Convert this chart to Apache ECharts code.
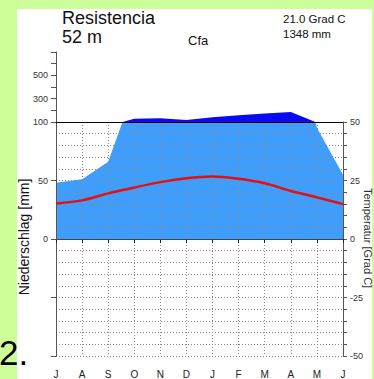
<!DOCTYPE html>
<html>
<head>
<meta charset="utf-8">
<script src="https://cdn.jsdelivr.net/npm/echarts@6/dist/echarts.min.js"></script>
<style>
  html, body { margin: 0; padding: 0; background: #ccff99; }
  #chart { width: 374px; height: 379px; }
</style>
</head>
<body>
<div id="chart"></div>
<script>
// Climate diagram, Resistencia (Walter-Lieth style), year starting in July
const monthNames = ['Jul', 'Aug', 'Sep', 'Oct', 'Nov', 'Dec', 'Jan', 'Feb', 'Mar', 'Apr', 'May', 'Jun'];
const monthLabels = ['J', 'A', 'S', 'O', 'N', 'D', 'J', 'F', 'M', 'A', 'M', 'J'];
const precipMm = [48, 51, 66, 128, 132, 118, 140, 158, 172, 185, 95, 55];
const tempC = [15.2, 16.5, 19.5, 22.0, 24.3, 26.0, 26.7, 25.7, 23.8, 20.5, 17.8, 14.9];
const precipLabels = [0, 50, 100];
const upperPrecipLabels = [300, 500];
const tempLabels = [-50, -25, 0, 25, 50];

const FONT = '"Liberation Sans", Arial, sans-serif';
const LIGHT_BLUE = '#3f9dfb';
const DARK_BLUE = '#0a0af0';
const GRID_DOT = { color: '#8a8a8a', width: 1, type: [1, 2] };

const chart = echarts.init(document.getElementById('chart'), null, { renderer: 'svg' });

chart.setOption({
  backgroundColor: '#ccff99',
  animation: false,
  graphic: [
    { type: 'rect', z: -10, shape: { x: 17, y: 9, width: 355, height: 370 }, style: { fill: '#ffffff' } },
    { type: 'text', x: 62, y: 17.8, style: { text: 'Resistencia', font: '18px ' + FONT, fill: '#111', verticalAlign: 'middle' } },
    { type: 'text', x: 62, y: 37.2, style: { text: '52 m', font: '18px ' + FONT, fill: '#111', verticalAlign: 'middle' } },
    { type: 'text', x: 188, y: 40, style: { text: 'Cfa', font: '13px ' + FONT, fill: '#111', verticalAlign: 'middle' } },
    { type: 'text', x: 283, y: 18.8, style: { text: '21.0 Grad C', font: '11.5px ' + FONT, fill: '#111', verticalAlign: 'middle' } },
    { type: 'text', x: 283, y: 34.3, style: { text: '1348 mm', font: '11.5px ' + FONT, fill: '#111', verticalAlign: 'middle' } },
    { type: 'text', x: 24, y: 237, rotation: Math.PI / 2,
      style: { text: 'Niederschlag [mm]', font: '14px ' + FONT, fill: '#111', align: 'center', verticalAlign: 'middle' } },
    { type: 'text', x: 368, y: 238, rotation: -Math.PI / 2,
      style: { text: 'Temperatur [Grad C]', font: '11px ' + FONT, fill: '#333', align: 'center', verticalAlign: 'middle' } },
    { type: 'text', x: -1, y: 352.5, z: 10, style: { text: '2.', font: '35px ' + FONT, fill: '#000', verticalAlign: 'middle' } }
  ],
  grid: [
    // main panel: -100 .. 100 mm
    { left: 56, right: 31, top: 122, bottom: 22 },
    // compressed panel above 100 mm
    { left: 56, right: 31, top: 52, bottom: 257 }
  ],
  xAxis: [
    {
      type: 'category', gridIndex: 0, data: monthNames, boundaryGap: false, z: 3,
      axisLine: { show: true, lineStyle: { color: '#222', width: 1 } },
      axisTick: { show: true, length: 4, lineStyle: { color: '#222' } },
      axisLabel: { formatter: (v, i) => monthLabels[i], fontSize: 10, fontFamily: FONT, color: '#222', margin: 13 },
      splitLine: { show: true, lineStyle: GRID_DOT }
    },
    {
      type: 'category', gridIndex: 1, data: monthNames, boundaryGap: false, position: 'bottom', z: 3,
      axisLine: { show: true, lineStyle: { color: '#000', width: 1 } },
      axisTick: { show: false }, axisLabel: { show: false }, splitLine: { show: false }
    }
  ],
  yAxis: [
    {
      type: 'value', gridIndex: 0, position: 'left', min: -100, max: 100, interval: 50, z: 3,
      axisLine: { show: true, lineStyle: { color: '#555', width: 1 } },
      axisTick: { show: true, length: 5, lineStyle: { color: '#555' } },
      axisLabel: { formatter: v => (precipLabels.indexOf(v) >= 0 ? String(v) : ''), fontSize: 9, fontFamily: FONT, color: '#333', margin: 8 },
      splitLine: { show: false }
    },
    {
      type: 'value', gridIndex: 0, position: 'right', min: -50, max: 50, interval: 5, z: 3,
      axisLine: { show: true, lineStyle: { color: '#555', width: 1 } },
      axisTick: { show: true, length: 4, lineStyle: { color: '#555' } },
      axisLabel: { formatter: v => (tempLabels.indexOf(v) >= 0 ? String(v) : ''), fontSize: 9, fontFamily: FONT, color: '#333', margin: 7 },
      splitLine: { show: true, lineStyle: GRID_DOT }
    },
    {
      type: 'value', gridIndex: 1, position: 'left', min: 100, max: 700, interval: 100, z: 3,
      axisLine: { show: true, lineStyle: { color: '#555', width: 1 } },
      axisTick: { show: true, length: 5, lineStyle: { color: '#555' } },
      axisLabel: { formatter: v => (upperPrecipLabels.indexOf(v) >= 0 ? String(v) : ''), fontSize: 9, fontFamily: FONT, color: '#333', margin: 8 },
      splitLine: { show: false }
    }
  ],
  series: [
    {
      name: 'Niederschlag', type: 'line', xAxisIndex: 0, yAxisIndex: 0, data: precipMm, z: 2,
      symbol: 'none', lineStyle: { width: 0 }, areaStyle: { color: LIGHT_BLUE, opacity: 1, origin: 'auto' },
      markLine: {
        silent: true, symbol: 'none', label: { show: false },
        lineStyle: { color: '#444', width: 1, type: 'solid' },
        data: [{ yAxis: 0 }]
      }
    },
    {
      name: 'Niederschlag > 100', type: 'line', xAxisIndex: 1, yAxisIndex: 2, data: precipMm, z: 2,
      symbol: 'none', lineStyle: { width: 0 }, areaStyle: { color: DARK_BLUE, opacity: 1, origin: 'start' }
    },
    {
      name: 'Temperatur', type: 'line', xAxisIndex: 0, yAxisIndex: 1, data: tempC, z: 5,
      symbol: 'none', smooth: 0.3, lineStyle: { color: '#e60f0f', width: 2.5 }
    }
  ]
});
</script>
</body>
</html>
